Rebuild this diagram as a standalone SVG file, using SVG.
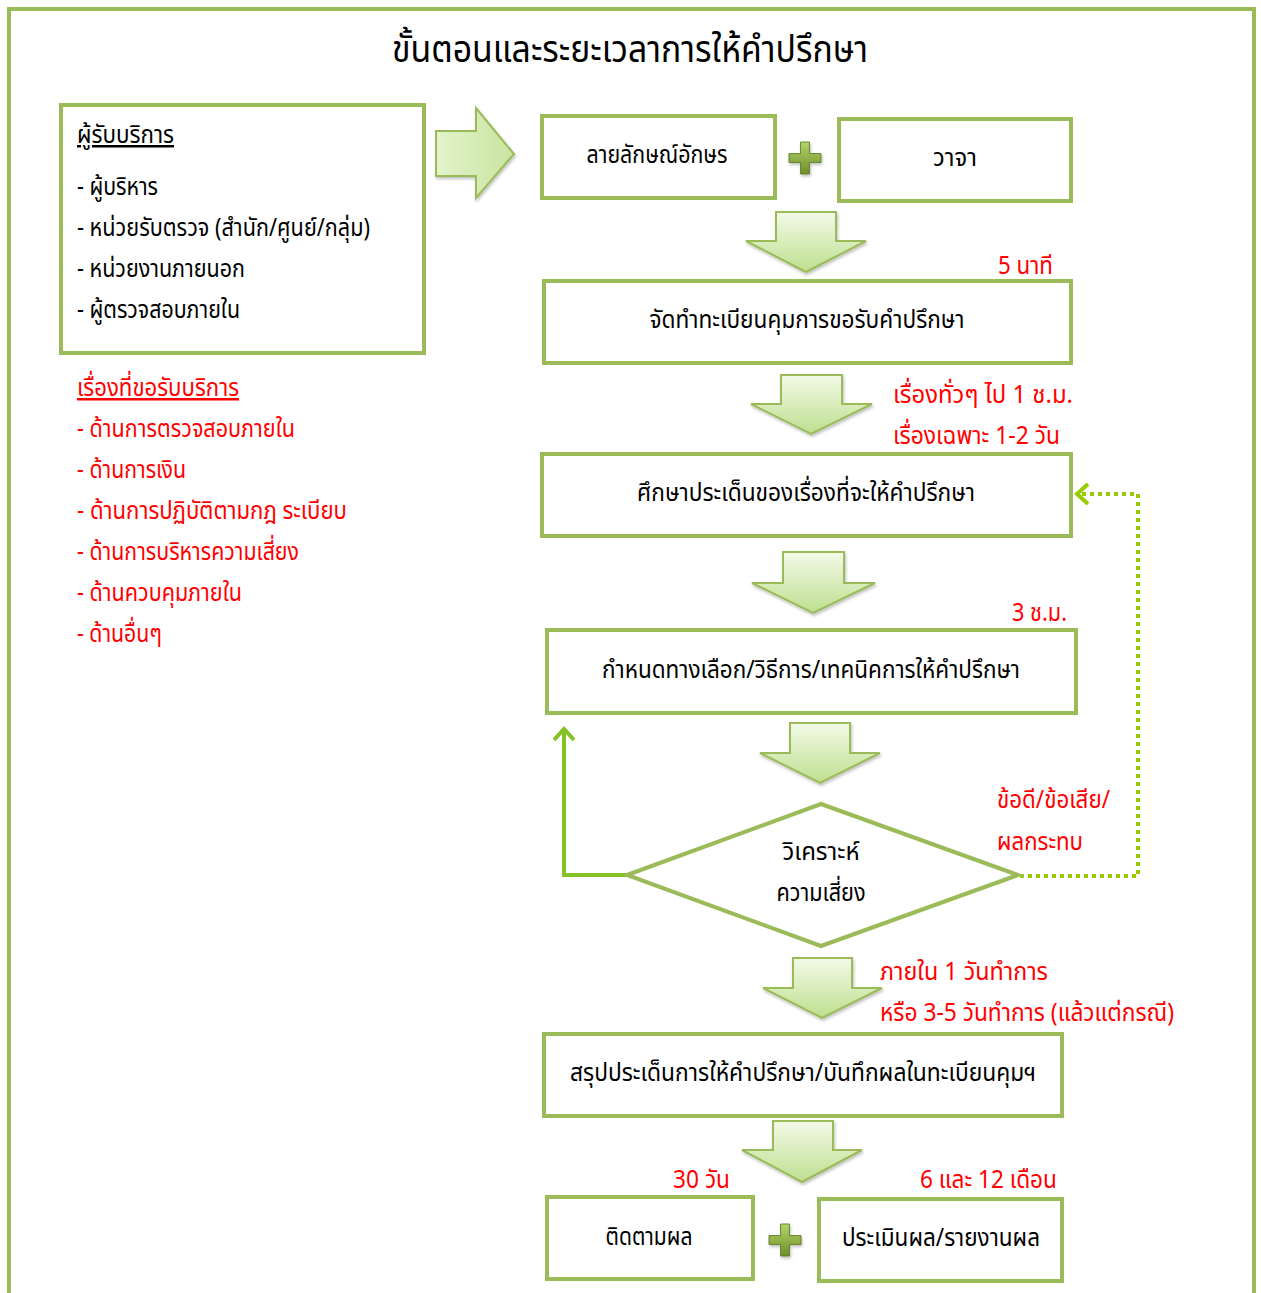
<svg xmlns="http://www.w3.org/2000/svg" width="1261" height="1293" viewBox="0 0 1261 1293">
<defs>
<style>
.box{fill:#fff;stroke:#9BBB59;stroke-width:4}
.t{font-family:"Noto Sans Thai","Tahoma","DejaVu Sans","Liberation Sans",sans-serif;font-size:25px;fill:#000}
.c{text-anchor:middle}
.r{fill:#FF0000}
.ttl{font-size:37px}
.arr{fill:url(#ag);stroke:#9BBB59;stroke-width:2;stroke-linejoin:miter}
</style>
<linearGradient id="ag" x1="0" y1="0" x2="0" y2="1">
<stop offset="0" stop-color="#F3FAE8"/>
<stop offset="1" stop-color="#BEDF8F"/>
</linearGradient>
<linearGradient id="agh" x1="0" y1="0" x2="1" y2="0">
<stop offset="0" stop-color="#E4F3CC"/>
<stop offset="1" stop-color="#C8E49F"/>
</linearGradient>
<linearGradient id="pg" x1="0" y1="0" x2="0" y2="1">
<stop offset="0" stop-color="#B4D36A"/>
<stop offset="1" stop-color="#6E8F2A"/>
</linearGradient>
<filter id="sh" x="-20%" y="-20%" width="140%" height="140%">
<feDropShadow dx="1" dy="2" stdDeviation="1.5" flood-color="#000" flood-opacity="0.25"/>
</filter>
<symbol id="plus" viewBox="0 0 36 36" overflow="visible">
<path d="M13 0h10v13h13v10h-13v13h-10v-13h-13v-10h13z" fill="url(#pg)" stroke="#5E7D22" stroke-width="1"/>
</symbol>
<marker id="chev" viewBox="0 0 24 24" refX="19" refY="12" markerWidth="24" markerHeight="24" markerUnits="userSpaceOnUse" orient="auto">
<path d="M8 2L19 12L8 22" fill="none" stroke="#84C225" stroke-width="4"/>
</marker>
<marker id="chev2" viewBox="0 0 24 24" refX="19" refY="12" markerWidth="24" markerHeight="24" markerUnits="userSpaceOnUse" orient="auto">
<path d="M8 2L19 12L8 22" fill="none" stroke="#99CC00" stroke-width="4"/>
</marker>
</defs>

<rect x="9" y="9" width="1245" height="1300" fill="#fff" stroke="#9BBB59" stroke-width="4"/>

<text id="title" class="t c ttl" x="630" y="62" textLength="476" lengthAdjust="spacingAndGlyphs">ขั้นตอนและระยะเวลาการให้คำปรึกษา</text>

<g id="clients">
<rect class="box" x="61" y="105" width="363" height="248"/>
<text class="t" x="77" y="143" text-decoration="underline" textLength="97" lengthAdjust="spacingAndGlyphs">ผู้รับบริการ</text>
<text class="t" x="77" y="195" textLength="81" lengthAdjust="spacingAndGlyphs">- ผู้บริหาร</text>
<text class="t" x="77" y="236" textLength="293" lengthAdjust="spacingAndGlyphs">- หน่วยรับตรวจ (สำนัก/ศูนย์/กลุ่ม)</text>
<text class="t" x="77" y="277" textLength="168" lengthAdjust="spacingAndGlyphs">- หน่วยงานภายนอก</text>
<text class="t" x="77" y="318" textLength="163" lengthAdjust="spacingAndGlyphs">- ผู้ตรวจสอบภายใน</text>
</g>

<g id="topics">
<text class="t r" x="77" y="396" text-decoration="underline" textLength="162" lengthAdjust="spacingAndGlyphs">เรื่องที่ขอรับบริการ</text>
<text class="t r" x="77" y="437" textLength="218" lengthAdjust="spacingAndGlyphs">- ด้านการตรวจสอบภายใน</text>
<text class="t r" x="77" y="478" textLength="109" lengthAdjust="spacingAndGlyphs">- ด้านการเงิน</text>
<text class="t r" x="77" y="519" textLength="270" lengthAdjust="spacingAndGlyphs">- ด้านการปฏิบัติตามกฎ  ระเบียบ</text>
<text class="t r" x="77" y="560" textLength="222" lengthAdjust="spacingAndGlyphs">- ด้านการบริหารความเสี่ยง</text>
<text class="t r" x="77" y="601" textLength="165" lengthAdjust="spacingAndGlyphs">- ด้านควบคุมภายใน</text>
<text class="t r" x="77" y="642" textLength="85" lengthAdjust="spacingAndGlyphs">- ด้านอื่นๆ</text>
</g>

<g id="connectors">
<path filter="url(#sh)" d="M436 131H476V108L514 154L476 198V176H436Z" fill="url(#agh)" stroke="#9BBB59" stroke-width="2"/>
<path class="arr" filter="url(#sh)" d="M776 212H836V241H866L806 272L746 241H776Z"/>
<path class="arr" filter="url(#sh)" d="M781 375H842V404H872L811 434L751 404H781Z"/>
<path class="arr" filter="url(#sh)" d="M783 552H844V583H875L813 613L752 583H783Z"/>
<path class="arr" filter="url(#sh)" d="M790 723H850V753H880L820 783L760 753H790Z"/>
<path class="arr" filter="url(#sh)" d="M793 958H852V988H882L822 1018L763 988H793Z"/>
<path class="arr" filter="url(#sh)" d="M773 1121H833V1150H862L802 1182L742 1150H773Z"/>
<path d="M627 875H564V729" fill="none" stroke="#84C225" stroke-width="4" marker-end="url(#chev)"/>
<path d="M1020 876H1138V494H1077" fill="none" stroke="#99CC00" stroke-width="4" stroke-dasharray="4 4" marker-end="url(#chev2)"/>
<use href="#plus" x="789" y="142" width="32" height="32" filter="url(#sh)"/>
<use href="#plus" x="769" y="1224" width="32" height="32" filter="url(#sh)"/>
</g>

<g id="written">
<rect class="box" x="542" y="116" width="233" height="82"/>
<text class="t c" x="657" y="163" textLength="141" lengthAdjust="spacingAndGlyphs">ลายลักษณ์อักษร</text>
</g>
<g id="verbal">
<rect class="box" x="839" y="119" width="232" height="82"/>
<text class="t c" x="955" y="166" textLength="44" lengthAdjust="spacingAndGlyphs">วาจา</text>
</g>

<text id="t5min" class="t r" x="998" y="274" textLength="55" lengthAdjust="spacingAndGlyphs">5 นาที</text>
<g id="register">
<rect class="box" x="544" y="281" width="527" height="82"/>
<text class="t c" x="807" y="328" textLength="315" lengthAdjust="spacingAndGlyphs">จัดทำทะเบียนคุมการขอรับคำปรึกษา</text>
</g>

<text id="tgen" class="t r" x="893" y="403" textLength="180" lengthAdjust="spacingAndGlyphs">เรื่องทั่วๆ ไป  1 ช.ม.</text>
<text id="tspec" class="t r" x="893" y="444" textLength="167" lengthAdjust="spacingAndGlyphs">เรื่องเฉพาะ 1-2 วัน</text>
<g id="study">
<rect class="box" x="542" y="454" width="529" height="82"/>
<text class="t c" x="806" y="501" textLength="338" lengthAdjust="spacingAndGlyphs">ศึกษาประเด็นของเรื่องที่จะให้คำปรึกษา</text>
</g>

<text id="t3h" class="t r" x="1012" y="621" textLength="55" lengthAdjust="spacingAndGlyphs">3 ช.ม.</text>
<g id="options">
<rect class="box" x="547" y="630" width="529" height="83"/>
<text class="t c" x="811" y="678" textLength="418" lengthAdjust="spacingAndGlyphs">กำหนดทางเลือก/วิธีการ/เทคนิคการให้คำปรึกษา</text>
</g>

<text id="tpros" class="t r" x="997" y="808" textLength="113" lengthAdjust="spacingAndGlyphs">ข้อดี/ข้อเสีย/</text>
<text id="timpact" class="t r" x="997" y="850" textLength="86" lengthAdjust="spacingAndGlyphs">ผลกระทบ</text>
<g id="risk">
<path d="M627 875L821 804L1018 875L821 946Z" fill="#fff" stroke="#9BBB59" stroke-width="4" stroke-linejoin="miter"/>
<text class="t c" x="821" y="860" textLength="77" lengthAdjust="spacingAndGlyphs">วิเคราะห์</text>
<text class="t c" x="821" y="901" textLength="89" lengthAdjust="spacingAndGlyphs">ความเสี่ยง</text>
</g>

<text id="t1day" class="t r" x="880" y="980" textLength="168" lengthAdjust="spacingAndGlyphs">ภายใน 1 วันทำการ</text>
<text id="t35day" class="t r" x="880" y="1021" textLength="294" lengthAdjust="spacingAndGlyphs">หรือ 3-5 วันทำการ (แล้วแต่กรณี)</text>
<g id="summary">
<rect class="box" x="544" y="1034" width="518" height="82"/>
<text class="t c" x="803" y="1081" textLength="466" lengthAdjust="spacingAndGlyphs">สรุปประเด็นการให้คำปรึกษา/บันทึกผลในทะเบียนคุมฯ</text>
</g>

<text id="t30" class="t r" x="673" y="1188" textLength="57" lengthAdjust="spacingAndGlyphs">30 วัน</text>
<text id="t612" class="t r" x="920" y="1188" textLength="137" lengthAdjust="spacingAndGlyphs">6 และ 12 เดือน</text>
<g id="follow">
<rect class="box" x="547" y="1197" width="206" height="82"/>
<text class="t c" x="649" y="1245" textLength="87" lengthAdjust="spacingAndGlyphs">ติดตามผล</text>
</g>
<g id="evaluate">
<rect class="box" x="819" y="1199" width="243" height="82"/>
<text class="t c" x="941" y="1246" textLength="198" lengthAdjust="spacingAndGlyphs">ประเมินผล/รายงานผล</text>
</g>
</svg>
